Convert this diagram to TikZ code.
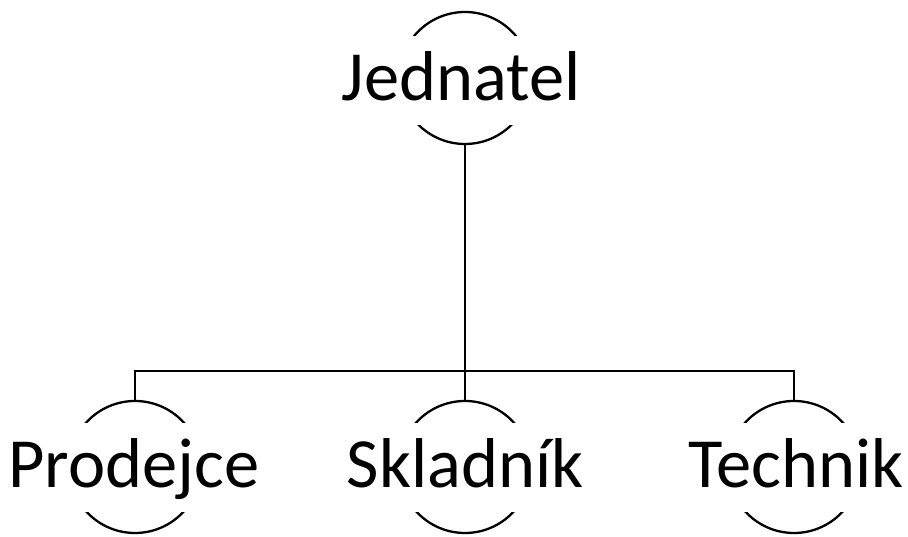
\documentclass[tikz,border=0pt]{standalone}
\usepackage{fontspec}
\setmainfont{Carlito}
\begin{document}
\begin{tikzpicture}[x=1pt,y=1pt,
  line width=2.3pt,
  ring/.style={circle, draw, minimum size=132pt, inner sep=0pt},
  label/.style={fill=white, inner sep=0pt, text height=65pt, text depth=24pt,
    anchor=base, font=\fontsize{70.5}{80}\selectfont}]
  \useasboundingbox (0,0) rectangle (908,537);
  % circles behind the names
  \node[ring] (J) at (465,459) {};
  \node[ring] (P) at (135,70) {};
  \node[ring] (S) at (465,70) {};
  \node[ring] (T) at (794,70) {};
  % names, masking the sides of each circle
  \node[label] (Jt) at (461,436) {Jednatel};
  \node[label] (Pt) at (134,49) {Prodejce};
  \node[label] (St) at (465,49) {Skladník};
  \node[label] (Tt) at (796,49) {Technik};
  % connectors
  \coordinate (bar) at (465,166);
  \draw (J.south) -- (bar);
  \draw (P.north) -- (P.north |- bar) -- (T.north |- bar) -- (T.north);
  \draw (S.north) -- (S.north |- bar);
\end{tikzpicture}
\end{document}
